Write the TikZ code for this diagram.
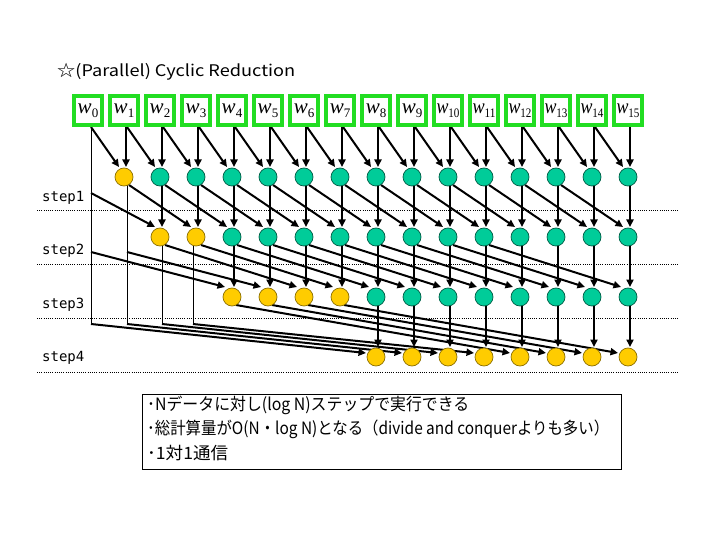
\documentclass[tikz,border=0pt]{standalone}
\usepackage{fontspec}
\usepackage{graphicx}
\setmainfont{Noto Sans CJK JP}
\newfontfamily\tms{Liberation Serif}
\newfontfamily\mono{DejaVu Sans Mono}
\usetikzlibrary{arrows.meta}
\definecolor{wgreen}{RGB}{34,221,34}
\definecolor{cgreen}{RGB}{0,204,153}
\definecolor{cyellow}{RGB}{255,204,0}
\pgfdeclarelayer{bg}
\pgfsetlayers{bg,main}
\newcommand\wtext[1]{{\tms\fontsize{21}{21}\selectfont\itshape w}\raisebox{-3.5pt}{\tms\fontsize{13}{13}\selectfont #1}}
\newcommand\wlab[1]{\ifnum#1<10 \wtext{#1}\else\resizebox{23pt}{\height}{\wtext{#1}}\fi}
\tikzset{
  wbox/.style={draw=wgreen, line width=4pt, fill=white, minimum width=28pt, minimum height=29pt, inner sep=0pt},
  gnode/.style={circle, draw=cgreen!45!black, line width=0.7pt, fill=cgreen, minimum size=18pt, inner sep=0pt},
  ynode/.style={circle, draw=cyellow!55!black, line width=0.7pt, fill=cyellow, minimum size=18pt, inner sep=0pt},
  arr/.style={line width=2pt, -{Triangle[length=7.5pt,width=7pt]}},
  thinline/.style={line width=1pt},
  sepline/.style={line width=0.7pt, dash pattern=on 1pt off 1.2pt},
  steplbl/.style={anchor=west, inner sep=0pt, font=\mono\fontsize{14}{14}\selectfont},
  txt/.style={anchor=west, inner sep=0pt, font=\fontsize{17}{17}\selectfont},
}
\begin{document}
\begin{tikzpicture}[x=1pt,y=-1pt]
\useasboundingbox (0,0) rectangle (720,540);
% title
\node[anchor=west, inner sep=0pt, font=\fontsize{16}{16}\selectfont] (title) at (57,72) {\resizebox{238pt}{\height}{☆(Parallel) Cyclic Reduction}};
% boxes
\foreach \i in {0,...,15} \node[wbox] (b\i) at ({88+36*\i},110.5) {\wlab{\i}};
% circles
\node[ynode] (c1-1) at (124,177) {};
\foreach \i in {2,...,15} \node[gnode] (c1-\i) at ({88+36*\i},177) {};
\foreach \i in {2,3} \node[ynode] (c2-\i) at ({88+36*\i},237) {};
\foreach \i in {4,...,15} \node[gnode] (c2-\i) at ({88+36*\i},237) {};
\foreach \i in {4,...,7} \node[ynode] (c3-\i) at ({88+36*\i},297) {};
\foreach \i in {8,...,15} \node[gnode] (c3-\i) at ({88+36*\i},297) {};
\foreach \i in {8,...,15} \node[ynode] (c4-\i) at ({88+36*\i},357) {};
% auxiliary coordinates
\coordinate (t0a) at (91,193);
\coordinate (t0b) at (91,252);
\coordinate (t1b) at (127,252);
\coordinate (e0) at (91,324);
\coordinate (e1) at (127,324);
\coordinate (e2) at (162,324);
\coordinate (e3) at (193,324);
% step labels and separators
\node[steplbl] (s1) at (42,198) {step1};
\node[steplbl] (s2) at (42,251) {step2};
\node[steplbl] (s3) at (42,305) {step3};
\node[steplbl] (s4) at (42,358) {step4};
\foreach \y in {210,264,318,372} \draw[sepline] (37,\y) -- (678,\y);
\begin{pgfonlayer}{bg}
% thin pass-through lines
\draw[thinline] (b0.south -| e0) -- (e0);
\draw[thinline] (c1-1.center -| e1) -- (e1);
\draw[thinline] (c2-2.center -| e2) -- (e2);
\draw[thinline] (c2-3.center -| e3) -- (e3);
% step 1
\foreach \i [evaluate=\i as \j using int(\i-1)] in {1,...,15} {
  \draw[arr] ([shift={(3,0)}]b\j.south) -- ([shift={(-5,-10)}]c1-\i.center);
  \draw[arr] ([shift={(2,0)}]b\i.south) -- ([shift={(2,-10)}]c1-\i.center);
}
% step 2
\draw[arr] (t0a) -- ([shift={(-5,-10)}]c2-2.center);
\foreach \i [evaluate=\i as \j using int(\i-2)] in {3,...,15}
  \draw[arr] ([shift={(5,8)}]c1-\j.center) -- ([shift={(-5,-10)}]c2-\i.center);
\foreach \i in {2,...,15}
  \draw[arr] ([shift={(2,0)}]c1-\i.center) -- ([shift={(2,-10)}]c2-\i.center);
% step 3
\draw[arr] (t0b) -- ([shift={(-7,-10)}]c3-4.center);
\draw[arr] (t1b) -- ([shift={(-7,-10)}]c3-5.center);
\foreach \i [evaluate=\i as \j using int(\i-4)] in {6,...,15}
  \draw[arr] ([shift={(5,8)}]c2-\j.center) -- ([shift={(-7,-10)}]c3-\i.center);
\foreach \i in {4,...,15}
  \draw[arr] ([shift={(2,0)}]c2-\i.center) -- ([shift={(2,-10)}]c3-\i.center);
% step 4
\foreach \k [evaluate=\k as \i using int(\k+8)] in {0,...,3}
  \draw[arr] (e\k) -- ([shift={(-10,-4)}]c4-\i.center);
\foreach \i [evaluate=\i as \j using int(\i-8)] in {12,...,15}
  \draw[arr] ([shift={(4,8)}]c3-\j.center) -- ([shift={(-10,-4)}]c4-\i.center);
\foreach \i in {8,...,15}
  \draw[arr] ([shift={(2,0)}]c3-\i.center) -- ([shift={(2,-10)}]c4-\i.center);
\end{pgfonlayer}
% text box
\node[draw, line width=1pt, minimum width=479pt, minimum height=75pt, anchor=north west, inner sep=0pt] (tbox) at (142,394) {};
\node[txt] (l1) at (147,405) {\resizebox{322pt}{\height}{･Nデータに対し(log N)ステップで実行できる}};
\node[txt] (l2) at (147,429) {\resizebox{462pt}{\height}{･総計算量がO(N・log N)となる（divide and conquerよりも多い）}};
\node[txt] (l3) at (147,453) {\resizebox{81pt}{\height}{･1対1通信}};
\end{tikzpicture}
\end{document}
